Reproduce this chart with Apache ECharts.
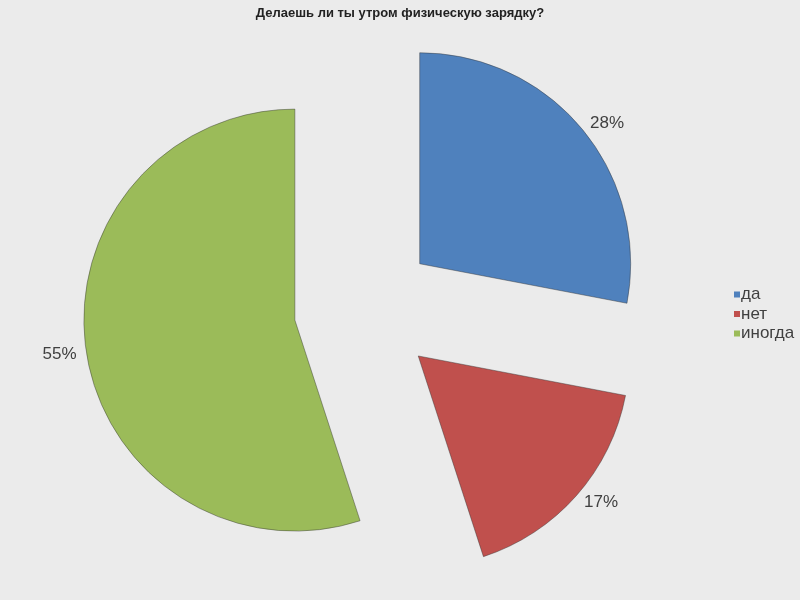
<!DOCTYPE html>
<html>
<head>
<meta charset="utf-8">
<script src="https://cdn.jsdelivr.net/npm/echarts@6/dist/echarts.min.js"></script>
<style>
html,body{margin:0;padding:0;background:#ebebeb;}
#c{width:800px;height:600px;}
</style>
</head>
<body>
<div id="c"></div>
<script>
const titleText = 'Делаешь ли ты утром физическую зарядку?';
const categories = ['да', 'нет', 'иногда'];
const values = [28, 17, 55];
const colors = ['#4F81BD', '#C0504D', '#9BBB59'];

const chart = echarts.init(document.getElementById('c'));
chart.setOption({
  backgroundColor: '#ebebeb',
  animation: false,
  title: {
    text: titleText,
    left: 'center',
    top: 2,
    textStyle: { fontFamily: 'Liberation Sans, Arial, sans-serif', fontSize: 13, fontWeight: 'bold', color: '#222' }
  },
  legend: {
    orient: 'vertical',
    left: 729,
    top: 281,
    itemWidth: 6,
    itemHeight: 6,
    itemGap: 2.5,
    icon: 'rect',
    selectedMode: false,
    itemStyle: { borderWidth: 0 },
    textStyle: { fontFamily: 'Liberation Sans, Arial, sans-serif', fontSize: 17, color: '#404040', padding: [0, 0, 0, -4] },
    data: categories
  },
  series: [{
    type: 'pie',
    center: [365, 309],
    radius: 211,
    startAngle: 90,
    clockwise: true,
    selectedMode: 'multiple',
    selectedOffset: 71,
    avoidLabelOverlap: false,
    emphasis: { disabled: true },
    itemStyle: { borderColor: 'rgba(50,50,50,0.55)', borderWidth: 0.8 },
    label: {
      show: true,
      position: 'outside',
      formatter: '{d}%',
      distanceToLabelLine: 0,
      fontFamily: 'Liberation Sans, Arial, sans-serif',
      fontSize: 17,
      color: '#404040'
    },
    labelLine: { show: false, length: 10, length2: 0 },
    data: categories.map((n, i) => ({
      name: n,
      value: values[i],
      selected: true,
      itemStyle: { color: colors[i] }
    }))
  }]
});
</script>
</body>
</html>
